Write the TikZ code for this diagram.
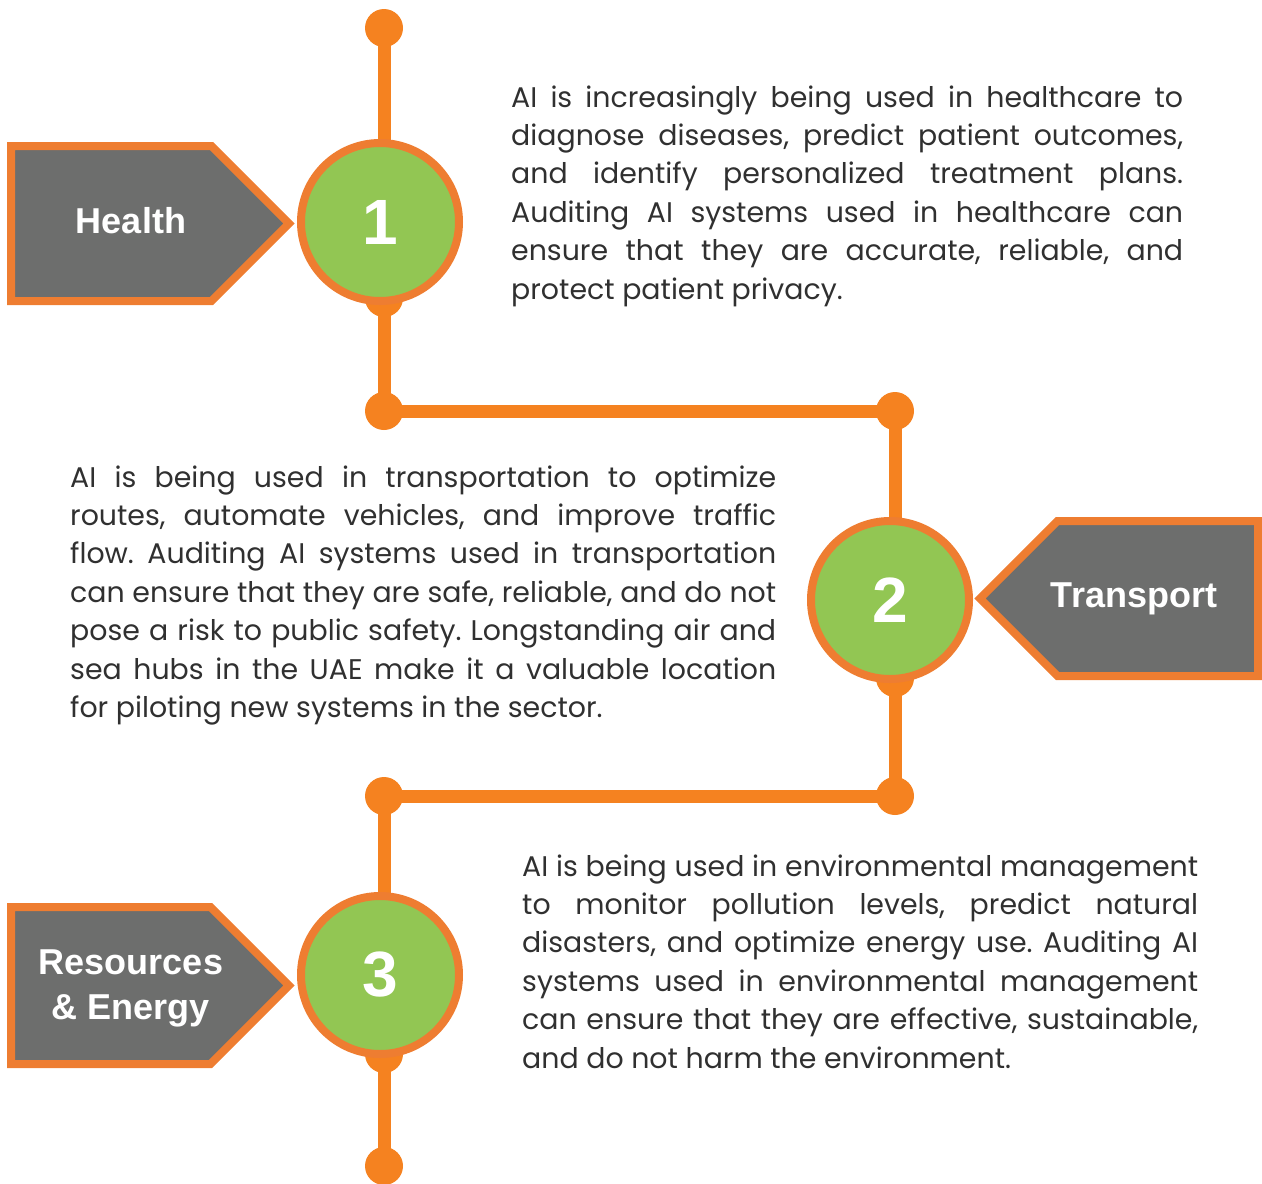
\documentclass[tikz,border=0pt]{standalone}
\usepackage{fontspec}
\setmainfont{Poppins}
\newfontfamily\headfont{Liberation Sans}
\usetikzlibrary{positioning,shapes.symbols}
\frenchspacing

\definecolor{trackorange}{HTML}{F58220}
\definecolor{rimorange}{HTML}{EE7D31}
\definecolor{taggrey}{HTML}{6D6E6D}
\definecolor{ballgreen}{HTML}{92C653}
\definecolor{bodygrey}{HTML}{303030}

\tikzset{
  track/.style={trackorange, line width=13pt},
  joint/.style={circle, fill=trackorange, minimum size=38pt, inner sep=0pt},
  ball/.style={circle, draw=rimorange, line width=8pt, fill=ballgreen, minimum size=158pt,
    inner sep=0pt, text=white, font=\headfont\bfseries\fontsize{64}{64}\selectfont},
  tag/.style={signal, draw=rimorange, line width=8pt, fill=taggrey, minimum width=278pt,
    minimum height=155pt, inner sep=0pt, outer sep=0pt},
  tagtext/.style={text=white, align=center, inner sep=0pt,
    font=\headfont\bfseries\fontsize{36}{45}\selectfont},
  blurb/.style={anchor=base west, inner sep=0pt, text=bodygrey, align=justify,
    font=\fontsize{28.4}{38.4}\selectfont}
}

\begin{document}
\begin{tikzpicture}[x=1pt,y=-1pt]
    \useasboundingbox (0,0) rectangle (1262,1184);

    % Joints on the track
    \node[joint] (d1) at (384, 28) {};
    \node[joint] (d2) at (384, 298) {};
    \node[joint] (d3) at (384, 411) {};
    \node[joint] (d4) at (895, 411) {};
    \node[joint] (d5) at (895, 678) {};
    \node[joint] (d6) at (895, 796) {};
    \node[joint] (d7) at (384, 796) {};
    \node[joint] (d8) at (384, 1054) {};
    \node[joint] (d9) at (384, 1166) {};

    % Track
    \draw[track] (d1.center) -- (d2.center) -- (d3.center) -- (d4.center)
        -- (d5.center) -- (d6.center) -- (d7.center) -- (d8.center) -- (d9.center);

    % Numbered balls
    \node[ball] (b1) at (380, 222) {1};
    \node[ball] (b2) at (890, 600) {2};
    \node[ball] (b3) at (380, 975) {3};

    % Tags
    \node[tag, signal to=east, anchor=west] (health) at (11, 223.5) {};
    \node[tagtext] (healthtxt) at (131, 221) {Health};
    \node[tag, signal to=west, anchor=east] (transport) at (1258, 598.5) {};
    \node[tagtext] (transporttxt) at (1134, 599) {Transport};
    \node[tag, signal to=east, anchor=west, minimum height=157pt] (energy) at (11, 985.5) {};
    \node[tagtext] (energytxt) at (131, 988) {Resources\\\& Energy};

    % Texts
    \node[blurb, text width=672pt] (healthblurb) at (511, 107) {AI is increasingly being used in healthcare to\linebreak
      diagnose diseases, predict patient outcomes,\linebreak
      and identify personalized treatment plans.\linebreak
      Auditing AI systems used in healthcare can\linebreak
      ensure that they are accurate, reliable, and\linebreak
      protect patient privacy.};
    \node[blurb, text width=706pt] (transportblurb) at (70, 487) {AI is being used in transportation to optimize\linebreak
      routes, automate vehicles, and improve traffic\linebreak
      flow. Auditing AI systems used in transportation\linebreak
      can ensure that they are safe, reliable, and do not\linebreak
      pose a risk to public safety. Longstanding air and\linebreak
      sea hubs in the UAE make it a valuable location\linebreak
      for piloting new systems in the sector.};
    \node[blurb, text width=676pt] (energyblurb) at (522, 876) {AI is being used in environmental management\linebreak
      to monitor pollution levels, predict natural\linebreak
      disasters, and optimize energy use. Auditing AI\linebreak
      systems used in environmental management\linebreak
      can ensure that they are effective, sustainable,\linebreak
      and do not harm the environment.};
\end{tikzpicture}
\end{document}
